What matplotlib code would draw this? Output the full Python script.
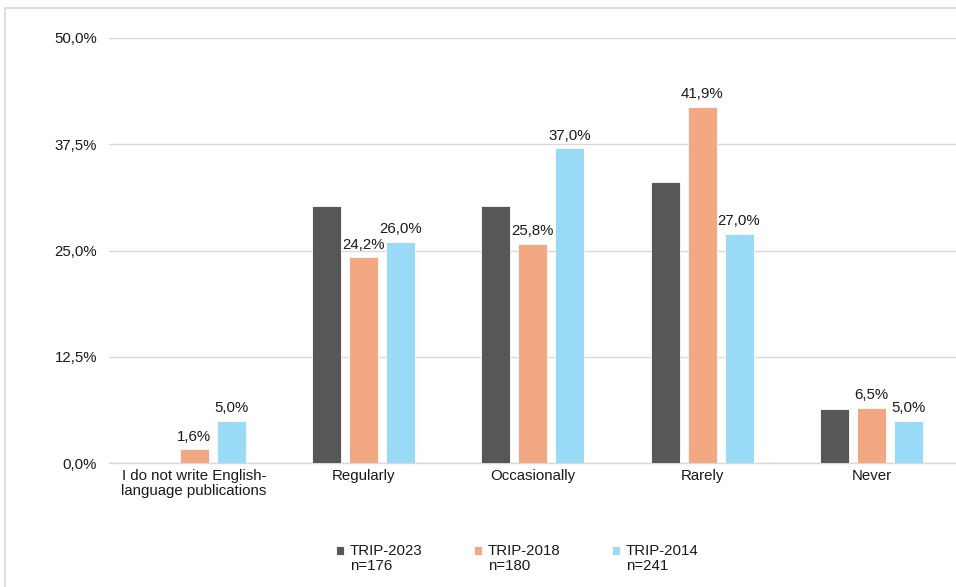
import numpy as np
import matplotlib.pyplot as plt
from matplotlib.patches import Rectangle
from matplotlib.legend_handler import HandlerPatch

plt.rcParams['font.family'] = ['Liberation Sans', 'DejaVu Sans']

categories = ["I do not write English-\nlanguage publications", "Regularly",
              "Occasionally", "Rarely", "Never"]
series = ["TRIP-2023\nn=176", "TRIP-2018\nn=180", "TRIP-2014\nn=241"]
trip_2023 = [0.0, 30.2, 30.2, 33.0, 6.3]
trip_2018 = [1.6, 24.2, 25.8, 41.9, 6.5]
trip_2014 = [5.0, 26.0, 37.0, 27.0, 5.0]
yticks = [0, 12.5, 25, 37.5, 50]

colors = ["#575757", "#F2A882", "#99DBF7"]
show_labels = [False, True, True]
FS = 10.8


def pct(v):
    return f"{v:.1f}%".replace(".", ",")


def raised_square(legend, orig_handle, xdescent, ydescent, width, height, fontsize):
    # put the legend square next to the first line of a two-line label
    return Rectangle((-xdescent, -ydescent + 0.55 * fontsize), width, height)


fig = plt.figure(figsize=(9.56, 5.87), dpi=100)
# light frame like the original chart area border
fig.patches.append(Rectangle((5 / 956, -0.1), 1.2, 1 - 8 / 587 + 0.1,
                             transform=fig.transFigure, fill=False,
                             edgecolor="#D9D9D9", linewidth=1.2))

ax = fig.add_axes([0.1145, 0.2112, 0.8855, 0.7241])

x = np.arange(len(categories))
width = 0.171
step = 0.2186
values = [trip_2023, trip_2018, trip_2014]

handles = []
for i, (vals, col, lab) in enumerate(zip(values, colors, series)):
    pos = x + (i - 1) * step
    bars = ax.bar(pos, vals, width, color=col, edgecolor="white",
                  linewidth=0.6, label=lab, zorder=3)
    handles.append(bars.patches[0])
    if show_labels[i]:
        for b, v in zip(bars, vals):
            ax.annotate(pct(v), (b.get_x() + b.get_width() / 2, v),
                        xytext=(0, 4), textcoords="offset points",
                        ha="center", va="bottom", fontsize=FS,
                        color="#1a1a1a")

ax.set_xlim(-0.5, len(categories) - 0.5)
ax.set_ylim(0, 50)
ax.set_yticks(yticks)
ax.set_yticklabels([pct(t) for t in yticks])
ax.set_xticks(x)
ax.set_xticklabels(categories, linespacing=1.1)
ax.tick_params(axis="both", length=0, labelsize=FS, colors="#1a1a1a")
ax.tick_params(axis="y", pad=9)
ax.tick_params(axis="x", pad=4)

ax.grid(axis="y", color="#D9D9D9", linewidth=1, zorder=0)
for s in ["top", "right", "left"]:
    ax.spines[s].set_visible(False)
ax.spines["bottom"].set_color("#D9D9D9")
ax.spines["bottom"].set_linewidth(1)
ax.set_facecolor("none")

hmap = {Rectangle: HandlerPatch(patch_func=raised_square)}
leg = fig.legend(handles, series, loc="center", bbox_to_anchor=(0.541, 0.049),
                 ncol=3, frameon=False, fontsize=FS, handlelength=0.55,
                 handleheight=0.55, handletextpad=0.4, columnspacing=3.4,
                 handler_map=hmap)
for t in leg.get_texts():
    t.set_linespacing(1.1)
    t.set_color("#1a1a1a")

fig.savefig("out.png", dpi=100)
